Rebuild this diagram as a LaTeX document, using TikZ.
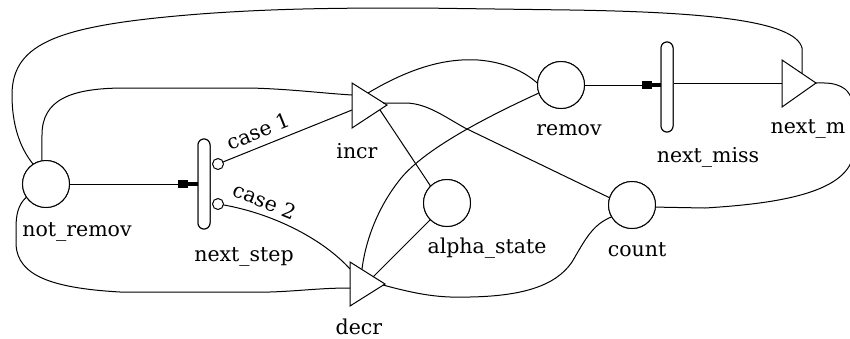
\documentclass[tikz,border=0pt]{standalone}
\usepackage{fontspec}
\setmainfont{DejaVu Serif}
\usetikzlibrary{calc}
\begin{document}
\begin{tikzpicture}[x=1pt,y=-1pt,line width=1pt,
  place/.style={circle,draw,fill=white,minimum size=47pt,inner sep=0pt},
  trans/.style={draw,fill=white,rounded corners=6pt,minimum width=12pt,minimum height=90pt,inner sep=0pt},
  port/.style={circle,draw,fill=white,minimum size=11pt,inner sep=0pt},
  lbl/.style={font=\fontsize{20.5}{21}\selectfont,anchor=base,inner sep=0pt},
  tri/.style={draw,line join=miter}]
\useasboundingbox (0,0) rectangle (850,338);

% ---- triangle (delay) elements and their ports ----
\coordinate (incr-a) at (352,95);
\coordinate (incr-b) at (352,110);
\coordinate (incr-up) at (368,93);
\coordinate (incr-t) at (383,103);
\coordinate (incr-lo) at (380,110);
\coordinate (decr-a) at (350,288);
\coordinate (decr-b) at (350,269);
\coordinate (decr-c) at (362,269);
\coordinate (decr-d) at (373,277);
\coordinate (decr-t) at (383,285);
\coordinate (nextm-in) at (782,83);
\coordinate (nextm-top) at (802,73);
\coordinate (nextm-t) at (816,83);

% ---- places and transitions ----
\node[place] (nr) at (46,184) {};
\node[place] (remov) at (561,85) {};
\node[place] (alpha) at (447,203) {};
\node[place] (count) at (632,205) {};
\node[trans] (ns) at (204,184) {};
\node[trans] (nm) at (667,87) {};

% ---- connectors ----
% not_remov -> next_step
\draw (nr.east) -- (178,184);
\fill (178,180) rectangle (188,188);
\draw[line width=4pt] (188,184) -- (ns.west);

% case branches
\draw (218,164) -- (incr-b);
\draw (218,204) .. controls (270,212) and (322,238) .. (decr-b);

% inner loop: not_remov -> incr
\draw (nr.100) -- (42,135) .. controls (42,100) and (70,88) .. (125,88)
      -- (250,88) .. controls (290,89) and (320,93) .. (incr-a);

% outer loop: not_remov -> next_m
\draw (nr.123) .. controls (20,148) and (12,125) .. (12,95)
      .. controls (12,42) and (60,25) .. (200,14)
      .. controls (280,8) and (350,8) .. (420,8) -- (570,10)
      .. controls (700,12) and (795,20) .. (802,48) -- (nextm-top);

% bottom loop: not_remov -> decr
\draw (nr.214) .. controls (18,205) and (16,215) .. (16,228) -- (16,245)
      .. controls (18,275) and (50,288) .. (120,292) -- (270,292)
      .. controls (300,291) and (320,288) .. (decr-a);

% incr -> remov
\draw (incr-up) .. controls (410,68) and (445,58) .. (478,60)
      .. controls (505,62) and (525,72) .. (remov.175);

% incr -> count
\draw (incr-t) -- (407,103) .. controls (428,104) and (445,117) .. (465,128) -- (count.162);

% incr -> alpha_state
\draw (incr-lo) -- (alpha.134);

% remov -> decr
\draw (remov.200) .. controls (480,120) and (420,152) .. (398,182)
      .. controls (375,212) and (365,245) .. (decr-c);

% decr -> alpha_state
\draw (decr-d) -- (alpha.225);

% decr -> count
\draw (decr-t) .. controls (420,295) and (440,298) .. (470,297)
      .. controls (520,296) and (555,287) .. (572,262)
      .. controls (585,240) and (592,225) .. (count.210);

% count -> next_m
\draw (count.-5) -- (705,208) .. controls (770,204) and (840,195) .. (852,160)
      .. controls (860,135) and (858,100) .. (845,89)
      .. controls (835,82) and (825,83) .. (nextm-t);

% remov -> next_miss
\draw (remov.east) -- (642,85);
\fill (642,81) rectangle (652,89);
\draw[line width=4pt] (652,85) -- (nm.west |- remov.east);

% next_miss -> next_m
\draw (nm.east |- nextm-in) -- (nextm-in);

% ---- redraw nodes on top ----
\node[place] at (nr) {};
\node[place] at (remov) {};
\node[place] at (alpha) {};
\node[place] at (count) {};
\node[trans] at (ns) {};
\node[trans] at (nm) {};
\node[port] (c1) at (218,164) {};
\node[port] (c2) at (218,204) {};

% triangles
\draw[tri] (352,83) -- (387,105) -- (352,128) -- cycle;
\draw[tri] (350,262) -- (385,284) -- (350,306) -- cycle;
\draw[tri] (782,60) -- (816,83) -- (782,107) -- cycle;

% ---- labels ----
\node[lbl] (nr-l) at (77,236) {not\_remov};
\node[lbl] (ns-l) at (244,261) {next\_step};
\node[lbl] (incr-l) at (357,158) {incr};
\node[lbl] (decr-l) at (359,334) {decr};
\node[lbl] (remov-l) at (569,135) {remov};
\node[lbl] (nm-l) at (708,162) {next\_miss};
\node[lbl] (nextm-l) at (808,133) {next\_m};
\node[lbl] (alpha-l) at (487,253) {alpha\_state};
\node[lbl] (count-l) at (637,256) {count};
\node[lbl,rotate=22] (case1) at (261,138) {case 1};
\node[lbl,rotate=-22] (case2) at (262,208) {case 2};
\end{tikzpicture}
\end{document}
